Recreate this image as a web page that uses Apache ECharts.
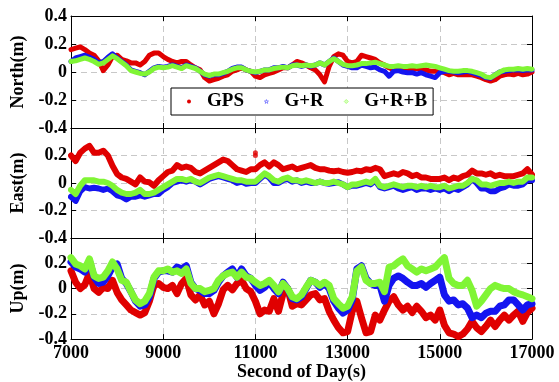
<!DOCTYPE html>
<html>
<head>
<meta charset="utf-8">
<script src="https://cdn.jsdelivr.net/npm/echarts@6/dist/echarts.min.js"></script>
<style>html,body{margin:0;padding:0;background:#fff;}#c{width:559px;height:382px;}</style>
</head>
<body>
<div id="c"></div>
<script>
// Sampling grid: second of day, every 100 s from 7000 to 17000
const seconds = Array.from({length: 101}, (_, i) => 7000 + i * 100);
const xTicks = ['7000', '9000', '11000', '13000', '15000', '17000'];
const seriesNames = ['GPS', 'G+R', 'G+R+B'];
const panelNames = ['North(m)', 'East(m)', 'Up(m)'];

const northGPS = [
 0.16,0.17,0.18,0.16,0.135,0.12,0.08,0.01,0.05,0.11,
 0.12,0.09,0.08,0.065,0.065,0.05,0.075,0.12,0.135,0.135,
 0.11,0.09,0.075,0.065,0.075,0.075,0.05,0.03,0.015,-0.04,
 -0.065,-0.055,-0.045,-0.03,-0.02,0.005,0.015,0.03,0.015,0.005,
 -0.03,-0.04,-0.02,-0.01,0,0.015,0.03,0.03,0.05,0.075,
 0.065,0.05,0.03,0.015,-0.02,-0.07,0.04,0.11,0.13,0.12,
 0.075,0.065,0.075,0.12,0.11,0.10,0.09,0.065,0.05,0.03,
 0.015,0.015,0.015,0.015,0.015,0.03,0.015,0.015,0.005,0.005,
 0.005,-0.005,-0.02,-0.01,-0.02,-0.02,-0.02,-0.02,-0.03,-0.04,
 -0.055,-0.065,-0.055,-0.03,-0.02,-0.015,-0.02,-0.01,-0.02,-0.015,
 0];
const northGR = [
 0.075,0.10,0.11,0.12,0.105,0.09,0.065,0.075,0.105,0.13,
 0.10,0.075,0.05,0.015,0.005,-0.005,-0.02,0.005,0.03,0.04,
 0.035,0.04,0.05,0.04,0.03,0.05,0.04,0.03,0.005,-0.02,
 -0.03,-0.02,-0.02,-0.01,0.005,0.025,0.035,0.035,0.015,0.005,
 -0.005,0.005,0.015,0.015,0.03,0.03,0.04,0.03,0.05,0.05,
 0.04,0.05,0.04,0.05,0.065,0.05,0.075,0.10,0.075,0.05,
 0.04,0.03,0.03,0.05,0.04,0.03,0.035,0.015,0.005,-0.03,
 0.005,0.01,0,-0.005,-0.005,-0.015,-0.005,-0.02,-0.03,-0.04,
 -0.005,0.005,0.005,0,-0.005,0,0.005,-0.005,-0.015,-0.025,
 -0.04,-0.045,-0.02,0,0.005,0.01,0.015,0.015,0.01,0.015,
 0.015];
const northGRB = [
 0.075,0.08,0.09,0.10,0.09,0.075,0.055,0.065,0.09,0.115,
 0.095,0.07,0.045,0.01,0,-0.01,-0.015,0,0.025,0.035,
 0.03,0.035,0.045,0.035,0.025,0.045,0.035,0.025,0.005,-0.015,
 -0.025,-0.015,-0.015,-0.005,0.005,0.02,0.03,0.03,0.015,0.005,
 0,0.005,0.015,0.015,0.025,0.03,0.035,0.03,0.045,0.05,
 0.045,0.05,0.045,0.05,0.065,0.05,0.075,0.095,0.075,0.055,
 0.045,0.045,0.05,0.06,0.06,0.065,0.07,0.06,0.05,0.04,
 0.04,0.045,0.04,0.04,0.045,0.04,0.045,0.05,0.045,0.04,
 0.03,0.02,0.01,0.005,0.005,0.01,0.01,0.005,-0.005,-0.015,
 -0.035,-0.04,-0.02,0,0.015,0.02,0.02,0.025,0.02,0.025,
 0.02];

const eastGPS = [
 0.20,0.16,0.22,0.25,0.27,0.22,0.22,0.235,0.20,0.125,
 0.065,0.04,0.03,0.01,-0.01,0.04,0.01,0.005,-0.02,0.02,
 0.05,0.08,0.09,0.13,0.11,0.12,0.11,0.08,0.07,0.09,
 0.11,0.13,0.15,0.17,0.16,0.13,0.10,0.09,0.08,0.10,
 0.10,0.13,0.15,0.12,0.15,0.13,0.10,0.11,0.12,0.10,
 0.11,0.12,0.13,0.11,0.10,0.10,0.09,0.085,0.09,0.08,
 0.075,0.08,0.09,0.085,0.10,0.095,0.11,0.10,0.05,0.06,
 0.07,0.06,0.08,0.07,0.05,0.06,0.04,0.04,0.03,0.03,
 0.03,0.04,0.02,0.04,0.03,0.05,0.06,0.09,0.07,0.07,
 0.06,0.07,0.05,0.06,0.05,0.05,0.05,0.06,0.07,0.10,
 0.06];
const eastGPSOutliers = [[11000, 0.22], [11000, 0.2]];
const eastGR = [
 -0.10,-0.13,-0.06,-0.03,-0.04,-0.035,-0.04,-0.05,-0.04,-0.06,
 -0.09,-0.10,-0.12,-0.10,-0.10,-0.09,-0.10,-0.09,-0.08,-0.08,
 -0.05,-0.03,0,0.01,0.02,0.01,0.02,0.01,-0.01,0.01,
 0.03,0.04,0.05,0.04,0.03,0.02,0,0.01,-0.005,0,
 0,0.03,0.06,0.04,0,0,0.02,0.03,0.01,0.02,
 0,0.01,0,0,0.01,0,-0.005,0,0.005,-0.01,
 -0.03,-0.02,-0.02,-0.01,0,-0.01,0.02,-0.03,-0.04,-0.03,
 -0.02,-0.04,-0.05,-0.04,-0.03,-0.05,-0.04,-0.04,-0.05,-0.04,
 -0.05,-0.04,-0.06,-0.04,-0.05,-0.03,-0.01,0.03,0,-0.04,
 -0.04,-0.06,-0.06,-0.04,-0.03,-0.01,-0.02,-0.02,-0.01,0.02,
 0.02];
const eastGRB = [
 -0.05,-0.08,-0.02,0.02,0.02,0.02,0.01,0.01,0,-0.02,
 -0.05,-0.07,-0.08,-0.08,-0.07,-0.05,-0.08,-0.08,-0.07,-0.05,
 -0.03,-0.01,0.01,0.03,0.03,0.02,0.03,0.01,0,0.02,
 0.04,0.05,0.06,0.05,0.04,0.03,0.02,0.02,0.01,0.01,
 0.01,0.04,0.07,0.05,0.02,0.01,0.03,0.04,0.02,0.02,
 0.01,0.02,0.01,0,0.01,0,0,0.01,0,-0.01,
 -0.03,-0.01,-0.01,0,0.01,0,0.03,-0.02,-0.03,-0.02,
 -0.01,-0.02,-0.03,-0.02,-0.02,-0.03,-0.02,-0.03,-0.02,-0.03,
 -0.03,-0.02,-0.04,-0.03,-0.02,-0.02,0,0.03,0.02,-0.01,
 -0.01,-0.02,-0.01,0,0,0.01,0,0.01,0.01,0.04,
 0.04];

const upGPS = [
 0.14,0.05,0,0.03,0.12,0,-0.03,0.01,0,0.065,
 -0.03,-0.09,-0.13,-0.17,-0.19,-0.21,-0.19,-0.10,0.025,0.04,
 0.01,0,0.025,-0.04,0.04,0.08,-0.05,-0.09,-0.05,-0.13,
 -0.10,-0.20,-0.12,-0.01,0.025,-0.01,0.04,0.065,0,-0.025,
 -0.10,-0.20,-0.17,-0.18,-0.08,-0.18,-0.04,0,-0.14,-0.12,
 -0.13,-0.09,-0.05,-0.04,-0.09,-0.08,-0.18,-0.25,-0.31,-0.35,
 -0.34,-0.18,-0.10,-0.23,-0.35,-0.34,-0.21,-0.25,-0.17,-0.10,
 -0.065,-0.13,-0.17,-0.14,-0.19,-0.14,-0.18,-0.23,-0.21,-0.25,
 -0.17,-0.29,-0.35,-0.36,-0.38,-0.36,-0.32,-0.26,-0.31,-0.34,
 -0.30,-0.25,-0.30,-0.25,-0.21,-0.25,-0.21,-0.18,-0.26,-0.19,
 -0.155];
const upGR = [
 0.21,0.17,0.155,0.13,0.22,0.09,0.04,0.05,0.10,0.17,
 0.195,0.08,0.04,-0.025,-0.10,-0.14,-0.13,-0.065,0.08,0.13,
 0.14,0.14,0.13,0.17,0.155,0.18,0.05,0,-0.015,-0.04,
 -0.04,-0.015,0.05,0.10,0.13,0.155,0.09,0.155,0.10,0.08,
 0.025,-0.015,0.01,0.05,0,-0.04,0.05,0,-0.08,-0.09,
 -0.065,0,0.065,0.05,0.01,0.04,0,-0.10,-0.155,-0.195,
 -0.17,-0.09,0.155,0.18,0.08,0.04,0.025,0.025,-0.10,0.025,
 0.08,0.10,0.08,0.05,0.025,0.025,0.04,0.01,0.04,0.065,
 0.09,-0.05,-0.10,-0.09,-0.13,-0.12,-0.155,-0.23,-0.21,-0.23,
 -0.195,-0.18,-0.18,-0.14,-0.13,-0.09,-0.09,-0.13,-0.17,-0.13,
 -0.12];
const upGRB = [
 0.245,0.195,0.18,0.155,0.235,0.10,0.08,0.09,0.14,0.21,
 0.155,0.065,0.05,-0.025,-0.09,-0.12,-0.10,-0.04,0.09,0.14,
 0.14,0.155,0.13,0.14,0.12,0.155,0.04,0,0,-0.025,
 -0.015,0,0.065,0.10,0.12,0.13,0.09,0.13,0.09,0.08,
 0.05,0.025,0.04,0.065,0.025,-0.025,0.04,0,-0.065,-0.08,
 -0.05,0.01,0.065,0.05,0.025,0.05,0.025,-0.08,-0.12,-0.155,
 -0.14,-0.065,0.14,0.17,0.065,0.04,0.04,0.05,-0.025,0.17,
 0.18,0.21,0.235,0.18,0.155,0.13,0.155,0.14,0.155,0.17,
 0.21,0.245,0.08,0.04,0.025,0.025,0.065,-0.015,-0.14,-0.10,
 -0.05,0,0.025,0.01,0,0,-0.025,-0.04,-0.05,-0.065,
 -0.08];

const yTicks = [-0.4, -0.2, 0, 0.2, 0.4];
const panels = [
  [northGPS, northGR, northGRB],
  [eastGPS, eastGR, eastGRB],
  [upGPS, upGR, upGRB]
];
const colors = ['#e00000', '#1414f0', '#80f535'];
const bandWidths = [5, 6, 7];

const font = '"Liberation Serif","Times New Roman",serif';
const grids = [
  {left: 71, top: 16, width: 461, height: 112},
  {left: 71, top: 128, width: 461, height: 110},
  {left: 71, top: 238, width: 461, height: 102}
];

const xAxis = [], yAxis = [], series = [];
grids.forEach((g, i) => {
  const last = i === 2;
  xAxis.push({
    type: 'value', gridIndex: i, min: 7000, max: 17000, interval: 2000, position: 'bottom',
    axisLine: {show: true, onZero: false, lineStyle: {color: '#000', width: 1}},
    axisTick: {show: true, inside: true, length: 5, lineStyle: {color: '#000'}},
    axisLabel: {show: last, color: '#000', fontFamily: font, fontWeight: 'bold', fontSize: 18, margin: 5,
      formatter: v => xTicks[(v - 7000) / 2000]},
    splitLine: {show: true, lineStyle: {color: '#c8c8c8', type: [6, 4], width: 1}},
    name: last ? 'Second of Day(s)' : '', nameLocation: 'middle', nameGap: 22,
    nameTextStyle: {color: '#000', fontFamily: font, fontWeight: 'bold', fontSize: 18}
  });
  xAxis.push({
    type: 'value', gridIndex: i, min: 7000, max: 17000, interval: 2000, position: 'top',
    axisLine: {show: true, onZero: false, lineStyle: {color: '#000', width: 1}},
    axisTick: {show: true, inside: true, length: 5, lineStyle: {color: '#000'}},
    axisLabel: {show: false}, splitLine: {show: false}
  });
  yAxis.push({
    type: 'value', gridIndex: i, min: -0.4, max: 0.4, interval: 0.2, position: 'left',
    axisLine: {show: true, onZero: false, lineStyle: {color: '#000', width: 1}},
    axisTick: {show: true, inside: true, length: 5, lineStyle: {color: '#000'}},
    axisLabel: {show: true, color: '#000', fontFamily: font, fontWeight: 'bold', fontSize: 18, margin: 4,
      showMaxLabel: i === 0, showMinLabel: true,
      formatter: v => { const t = yTicks.find(k => Math.abs(k - v) < 1e-9); return t === 0 ? '0' : String(t); }},
    splitLine: {show: true, lineStyle: {color: '#c8c8c8', type: [6, 4], width: 1}},
    name: panelNames[i], nameLocation: 'middle', nameGap: 42, nameRotate: 90,
    nameTextStyle: {color: '#000', fontFamily: font, fontWeight: 'bold', fontSize: 18}
  });
  yAxis.push({
    type: 'value', gridIndex: i, min: -0.4, max: 0.4, interval: 0.2, position: 'right',
    axisLine: {show: true, onZero: false, lineStyle: {color: '#000', width: 1}},
    axisTick: {show: true, inside: true, length: 5, lineStyle: {color: '#000'}},
    axisLabel: {show: false}, splitLine: {show: false}
  });
  panels[i].forEach((vals, k) => {
    series.push({
      name: seriesNames[k], type: 'line', xAxisIndex: 2 * i, yAxisIndex: 2 * i,
      data: seconds.map((s, j) => [s, vals[j]]),
      showSymbol: false, symbol: 'none', smooth: false, animation: false,
      lineStyle: {color: colors[k], width: bandWidths[i], join: 'round', cap: 'round'},
      itemStyle: {color: colors[k]}, z: 2 + k
    });
  });
  if (i === 1) {
    series.push({
      name: 'GPS', type: 'scatter', xAxisIndex: 2, yAxisIndex: 2, data: eastGPSOutliers,
      symbolSize: 5, itemStyle: {color: colors[0]}, animation: false, z: 2
    });
  }
});

const starPath = 'path://M50,0 L61,35 L98,35 L68,57 L79,91 L50,70 L21,91 L32,57 L2,35 L39,35 Z';
const chart = echarts.init(document.getElementById('c'), null, {renderer: 'canvas'});
chart.setOption({
  animation: false,
  backgroundColor: '#fff',
  grid: grids.map(g => Object.assign({show: false, containLabel: false}, g)),
  xAxis, yAxis, series,
  legend: {
    left: 171, top: 88, orient: 'horizontal',
    backgroundColor: '#fff', borderColor: '#000', borderWidth: 1, borderRadius: 0,
    padding: [4, 6, 4, 16], itemGap: 20, itemWidth: 4, itemHeight: 4,
    textStyle: {color: '#000', fontFamily: font, fontWeight: 'bold', fontSize: 19, padding: [0, 0, 0, 11]},
    data: [
      {name: 'GPS', icon: 'circle', itemStyle: {color: '#e00000'}},
      {name: 'G+R', icon: starPath, itemStyle: {color: '#ffffff', borderColor: '#8080ff', borderWidth: 1}},
      {name: 'G+R+B', icon: 'diamond', itemStyle: {color: '#d8ffc0', borderColor: '#b0ff80', borderWidth: 1}}
    ],
    selectedMode: false
  }
});
</script>
</body>
</html>
